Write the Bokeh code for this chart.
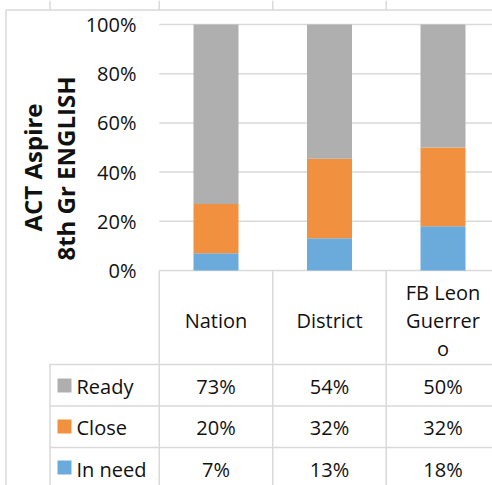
import math
from bokeh.plotting import figure
from bokeh.models import Range1d
from bokeh.core.properties import value
from bokeh.embed import file_html
from bokeh.resources import INLINE

# ---- data ----
categories = ["Nation", "District", "FB Leon Guerrero"]
header_lines = [["Nation"], ["District"], ["FB Leon", "Guerrer", "o"]]
series = ["Ready", "Close", "In need"]
ready = [73, 54, 50]
close = [20, 32, 32]
in_need = [7, 13, 18]
y_ticks = [0, 20, 40, 60, 80, 100]
title_lines = ["ACT Aspire", "8th Gr ENGLISH"]

# ---- styles ----
C_READY = "#AFAFAF"
C_CLOSE = "#F1913F"
C_NEED = "#6AABDC"
GRID = "#D9D9D9"
TXT = "#111111"
FONT = value("Open Sans")

W, H = 492, 485
OFF = 0
PX_PER_CAT = 113.5
PX_PER_PCT = 2.46
x_start = -(215.5 - OFF) / PX_PER_CAT
x_end = x_start + W / PX_PER_CAT
y_end = (270 - OFF) / PX_PER_PCT
y_start = y_end - H / PX_PER_PCT


def X(px):
    return x_start + (px - OFF) / PX_PER_CAT


def Y(py):
    return y_end - (py - OFF) / PX_PER_PCT


p = figure(width=W, height=H, output_backend="svg", toolbar_location=None,
           x_range=Range1d(x_start, x_end), y_range=Range1d(y_start, y_end),
           min_border=0, outline_line_color=None)
p.axis.visible = False
p.grid.visible = False
p.background_fill_color = "white"
p.border_fill_color = "white"

xs = list(range(len(categories)))
tot = [a + b + c for a, b, c in zip(ready, close, in_need)]
need_top = [100 * n / t for n, t in zip(in_need, tot)]
close_top = [100 * (n + c) / t for n, c, t in zip(in_need, close, tot)]
full = [100.0 for _ in tot]

# gridlines
p.segment(x0=[-0.5] * len(y_ticks), y0=y_ticks, x1=[3.0] * len(y_ticks), y1=y_ticks,
          line_color=GRID, line_width=1.5)

# bars
bw = 45 / PX_PER_CAT
p.vbar(x=xs, width=bw, bottom=[0] * 3, top=need_top, fill_color=C_NEED, line_color=None)
p.vbar(x=xs, width=bw, bottom=need_top, top=close_top, fill_color=C_CLOSE, line_color=None)
p.vbar(x=xs, width=bw, bottom=close_top, top=full, fill_color=C_READY, line_color=None)

# y tick labels
p.text(x=[X(136)] * len(y_ticks), y=y_ticks, text=[f"{t}%" for t in y_ticks],
       text_font=FONT, text_font_size=value("20px"), text_align="right",
       text_baseline="middle", text_color=TXT)

# y title
p.text(x=[X(32), X(65)], y=[Y(167), Y(168)], text=title_lines, angle=[math.pi / 2] * 2,
       text_font=FONT, text_font_size=value("24px"), text_font_style="bold",
       text_align="center", text_baseline="middle", text_color=TXT)

# table lines
row_lines = [Y(364), Y(405.5), Y(447)]
p.segment(x0=[X(49)] * 3, y0=row_lines, x1=[3.0] * 3, y1=row_lines,
          line_color=GRID, line_width=1.5)
col_x = [-0.5, 0.5, 1.5, 2.5]
p.segment(x0=col_x, y0=[0] * 4, x1=col_x, y1=[-100] * 4, line_color=GRID, line_width=1.5)
p.segment(x0=[X(49.5)], y0=[Y(364)], x1=[X(49.5)], y1=[-100], line_color=GRID, line_width=1.5)
p.segment(x0=[X(5.5)], y0=[Y(9.5)], x1=[3.0], y1=[Y(9.5)], line_color=GRID, line_width=1.5)
p.segment(x0=[X(5.5)], y0=[Y(9.5)], x1=[X(5.5)], y1=[-100], line_color=GRID, line_width=1.5)
top_cols = [X(49.5), -0.5, 0.5, 1.5]
p.segment(x0=top_cols, y0=[Y(0)] * 4, x1=top_cols, y1=[Y(9.5)] * 4,
          line_color=GRID, line_width=1.5)

# header labels
hx, hy, ht = [], [], []
for i, lines in enumerate(header_lines):
    n = len(lines)
    for j, ln in enumerate(lines):
        hx.append(xs[i])
        hy.append(Y(320 + (j - (n - 1) / 2) * 28))
        ht.append(ln)
p.text(x=hx, y=hy, text=ht, text_font=FONT, text_font_size=value("20px"),
       text_align="center", text_baseline="middle", text_color=TXT)

# legend rows + values
row_centers = [Y(386), Y(427), Y(469)]
sw_cols = [C_READY, C_CLOSE, C_NEED]
p.scatter(x=[X(64)] * 3, y=[Y(385), Y(426), Y(467)], marker="square", size=14,
          fill_color=sw_cols, line_color=None)
p.text(x=[X(76)] * 3, y=row_centers, text=series, text_font=FONT,
       text_font_size=value("20px"), text_align="left", text_baseline="middle",
       text_color=TXT)
vals = [ready, close, in_need]
tx, ty, tt = [], [], []
for r, row in enumerate(vals):
    for i, v in enumerate(row):
        tx.append(xs[i])
        ty.append(row_centers[r])
        tt.append(f"{v}%")
p.text(x=tx, y=ty, text=tt, text_font=FONT, text_font_size=value("20px"),
       text_align="center", text_baseline="middle", text_color=TXT)

open("out.html", "w").write(file_html(p, INLINE))
